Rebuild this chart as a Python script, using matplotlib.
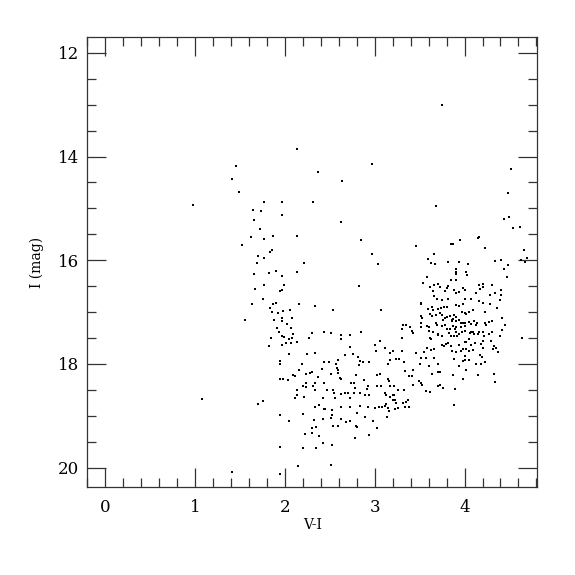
import numpy as np
import matplotlib
matplotlib.use("Agg")
import matplotlib.pyplot as plt
from matplotlib.ticker import MultipleLocator

# colour (V-I) and magnitude (I)
vi_blue = [0.98, 1.46, 1.41, 1.49, 2.14, 1.77, 1.97, 1.64, 1.73, 1.97, 1.66, 1.72, 1.62, 1.77,
           1.87, 2.14, 1.52, 1.86, 1.83, 1.70, 1.77, 1.69, 1.66, 1.82, 1.90, 1.97, 2.13,
           1.77, 1.99, 1.67, 1.94, 1.97, 1.76, 1.63, 1.87, 1.90, 2.16, 1.83, 1.86, 1.92,
           1.98, 2.06, 1.56, 1.88, 1.97, 1.97, 2.08, 2.02, 1.91, 1.93, 2.07, 2.09, 1.97,
           1.99, 1.85, 2.05, 2.08, 2.14, 2.01, 1.97, 2.07, 1.82, 2.05, 1.94, 1.95, 2.16,
           2.09, 2.11, 1.94, 1.98, 2.04, 2.14, 2.13, 2.11, 1.08, 1.76, 1.70, 1.95, 2.05,
           1.95, 2.15, 1.41, 1.95]
i_blue = [14.94, 14.18, 14.44, 14.69, 13.86, 14.87, 14.87, 15.03, 15.05, 15.12, 15.22, 15.40,
          15.56, 15.59, 15.53, 15.53, 15.70, 15.81, 15.85, 15.91, 15.96, 16.06, 16.27, 16.25,
          16.20, 16.30, 16.22,
          16.47, 16.48, 16.55, 16.59, 16.57, 16.74, 16.84, 16.84, 16.83, 16.85, 16.93, 16.99,
          17.02, 16.98, 16.97, 17.15, 17.16, 17.11, 17.18, 17.11, 17.23, 17.31, 17.38, 17.31,
          17.42, 17.47, 17.49, 17.50, 17.52, 17.51, 17.57, 17.59, 17.63, 17.60, 17.65, 17.81,
          17.94, 18.01, 18.11, 18.22, 18.24, 18.29, 18.30, 18.32, 18.51, 18.61, 18.65, 18.68,
          18.72, 18.78, 18.99, 19.11, 19.60, 19.98, 20.09, 20.12]

vi_mid = [2.97, 2.37, 2.64, 2.31, 2.62, 2.85, 2.97, 3.04, 2.21, 2.83, 2.34, 2.53, 3.07, 2.30,
          2.44, 2.51, 2.63, 2.72, 2.85, 2.27, 2.62,
          2.72, 3.00, 3.06, 3.01, 3.11, 3.17, 3.20, 2.25, 2.33, 2.67, 2.76, 2.81, 2.49, 2.43,
          2.59, 2.19, 2.57, 2.84, 2.87, 2.94, 2.82, 3.15, 3.17, 3.24, 3.27, 2.41, 2.58, 2.59,
          2.28, 2.30, 2.24, 2.59, 2.51, 2.79, 3.03, 3.06, 2.37, 2.61, 2.62, 2.88, 3.15, 3.16,
          2.23, 2.33, 2.43, 2.74, 2.77, 2.20, 2.23, 2.31, 2.78, 2.92, 3.02, 3.07, 3.17, 3.22,
          3.26, 2.91, 2.33, 2.47, 2.54, 2.55, 2.63, 2.67, 2.70, 2.77, 2.84, 2.89, 2.94, 3.11,
          3.13, 3.17, 3.20, 3.21, 2.21, 2.42, 2.56, 2.73, 3.23, 3.20, 2.33, 2.38, 2.45, 2.43,
          2.52, 2.62, 2.72, 2.84, 2.92, 3.00, 3.05, 3.08, 3.11, 3.13, 3.15, 3.16, 3.23, 3.26,
          2.20, 2.52, 2.51, 2.80, 2.32, 2.42, 2.62, 2.73, 2.89, 2.98, 2.68, 2.35, 2.30, 2.54,
          2.59, 2.79, 2.80, 3.03, 2.30, 2.22, 2.38, 2.94, 2.78, 2.42, 2.52, 2.20, 2.35, 2.51]
i_mid = [14.14, 14.29, 14.48, 14.87, 15.27, 15.61, 15.88, 16.08, 16.05, 16.50, 16.88, 16.97,
         16.97, 17.40, 17.38, 17.40, 17.45, 17.45, 17.38, 17.51, 17.52,
         17.68, 17.63, 17.56, 17.76, 17.70, 17.79, 17.76, 17.81, 17.80, 17.83, 17.81, 17.86,
         17.96, 17.97, 17.93, 18.01, 18.00, 17.94, 17.96, 17.96, 18.03, 18.00, 17.92, 17.91,
         17.90, 18.09, 18.08, 18.11, 18.17, 18.16, 18.19, 18.17, 18.20, 18.22, 18.22, 18.20,
         18.26, 18.27, 18.30, 18.32, 18.30, 18.33, 18.36, 18.36, 18.36, 18.36, 18.36, 18.43,
         18.45, 18.43, 18.46, 18.43, 18.42, 18.43, 18.42, 18.42, 18.51, 18.49, 18.51, 18.51,
         18.51, 18.57, 18.58, 18.56, 18.57, 18.57, 18.57, 18.60, 18.61, 18.57, 18.60, 18.63,
         18.61, 18.60, 18.63, 18.66, 18.65, 18.65, 18.70, 18.70, 18.83, 18.79, 18.88, 18.87,
         18.89, 18.83, 18.83, 18.82, 18.84, 18.86, 18.83, 18.83, 18.82, 18.78, 18.85, 18.90,
         18.87, 18.86, 18.96, 18.98, 19.05, 18.95, 19.08, 19.06, 19.06, 19.10, 19.03, 19.11,
         19.13, 19.22, 19.24, 19.20, 19.19, 19.20, 19.21, 19.24, 19.33, 19.35, 19.40, 19.38,
         19.43, 19.53, 19.57, 19.63, 19.63, 19.96]

vi_red = [3.46, 3.85, 3.87, 3.95, 3.66, 3.59, 3.63, 3.67, 3.82, 3.94, 3.91, 3.91, 3.91, 3.58,
          3.54, 3.85, 3.82, 3.80, 3.90, 3.66, 3.62, 3.65, 3.71, 3.73, 3.88, 3.91, 3.94, 3.78,
          3.66, 3.69, 3.75, 3.82, 3.51, 3.52, 3.59, 3.64, 3.65, 3.70, 3.74, 3.77, 3.80, 3.94,
          3.52, 3.53, 3.61, 3.64, 3.68, 3.73, 3.75, 3.76, 3.78, 3.81, 3.84, 3.88, 3.90, 3.86,
          3.86, 3.94, 3.31, 3.35, 3.39, 3.30, 3.52, 3.52, 3.58, 3.60, 3.68, 3.69, 3.75, 3.78,
          3.81, 3.84, 3.87, 3.91, 3.89, 3.41, 3.43, 3.60, 3.65, 3.71, 3.83, 3.91, 3.94, 3.30,
          3.62, 3.70, 3.75, 3.85, 3.88, 3.92,
          3.63, 3.58, 3.63, 3.66, 3.66, 3.75, 3.77, 3.79, 3.82, 3.85, 3.86, 3.94, 3.91, 3.30,
          3.33, 3.46, 3.55, 3.52, 3.57, 3.50, 3.60, 3.71, 3.64, 3.71, 3.73, 3.94, 3.34, 3.43,
          3.38, 3.42, 3.49, 3.52, 3.53, 3.43, 3.57, 3.62, 3.71, 3.73, 3.76, 3.89, 3.33, 3.37,
          3.35, 3.31, 3.38, 3.24, 3.34, 3.14, 3.88,
          4.52, 4.48, 4.49, 4.44, 4.54, 4.62, 4.16, 4.15, 4.23, 4.66, 4.69, 4.63, 4.67, 4.34,
          4.41, 4.48, 4.04, 4.44,
          4.47, 4.02, 4.03, 3.98, 4.00, 4.16, 4.21, 4.20, 4.17, 4.13, 4.31, 4.34, 4.41, 4.41,
          4.40, 4.28, 4.07, 4.00, 4.16, 4.20, 4.28, 3.90, 3.98, 4.36, 4.23, 4.09, 4.05, 4.02,
          4.00, 3.97, 3.87, 3.91, 3.96, 3.98, 4.01, 4.05, 4.07, 4.11, 4.13, 4.14, 4.23, 4.24,
          4.27, 4.31, 4.42, 4.45, 4.42, 3.96, 4.00, 4.01, 3.97, 4.06, 4.07, 4.09, 4.10, 4.15,
          4.16, 4.21, 4.22, 4.27, 4.31, 4.39, 4.64, 4.00, 4.02, 4.05, 4.07, 4.12, 4.21, 4.30,
          4.18, 4.20, 4.32, 4.35, 4.33, 4.37, 3.96, 3.98, 4.02, 4.05, 4.09, 4.17, 3.88, 3.98,
          4.01, 4.05, 4.00, 4.19, 4.23, 4.13, 4.18, 4.02, 3.87, 4.15, 4.33, 4.34, 3.98,
          3.75, 3.68]
i_red = [15.72, 15.69, 15.69, 15.62, 15.88, 15.98, 16.06, 16.08, 16.04, 16.04, 16.17, 16.22,
         16.26, 16.33, 16.44, 16.39, 16.50, 16.54, 16.39, 16.47, 16.51, 16.59, 16.46, 16.52,
         16.57, 16.63, 16.61, 16.59, 16.70, 16.74, 16.76, 16.75, 16.83, 16.84, 16.95, 16.90,
         16.97, 16.94, 16.93, 16.91, 16.91, 16.88, 17.08, 17.12, 17.04, 17.07, 17.05, 17.01,
         17.05, 17.16, 17.11, 17.09, 17.08, 17.05, 17.09, 17.15, 17.18, 17.16, 17.25, 17.26,
         17.29, 17.32, 17.21, 17.29, 17.27, 17.29, 17.22, 17.26, 17.27, 17.26, 17.32, 17.32,
         17.27, 17.28, 17.32, 17.37, 17.41, 17.37, 17.39, 17.42, 17.40, 17.39, 17.42, 17.50,
         17.50, 17.45, 17.47, 17.46, 17.47, 17.46,
         17.53, 17.69, 17.74, 17.71, 17.88, 17.63, 17.65, 17.61, 17.59, 17.65, 17.75, 17.63,
         17.77, 17.76, 17.97, 17.79, 17.77, 17.89, 17.88, 18.00, 18.04, 18.00, 18.19, 18.15,
         18.16, 18.04, 18.14, 18.12, 18.24, 18.24, 18.33, 18.36, 18.41, 18.40, 18.52, 18.54,
         18.43, 18.40, 18.47, 18.48, 18.50, 18.69, 18.73, 18.75, 18.83, 18.75, 18.83, 19.03,
         18.79,
         14.24, 14.70, 15.16, 15.21, 15.37, 15.36, 15.56, 15.58, 15.77, 15.80, 15.95, 16.00,
         16.04, 16.02, 16.00, 16.10, 16.07, 16.17,
         16.32, 16.23, 16.28, 16.53, 16.58, 16.48, 16.45, 16.52, 16.55, 16.63, 16.48, 16.63,
         16.58, 16.68, 16.77, 16.68, 16.74, 16.75, 16.79, 16.83, 16.84, 16.86, 16.85, 16.92,
         16.99, 16.96, 17.00, 17.04, 17.02, 17.00, 17.13, 17.18, 17.21, 17.21, 17.22, 17.19,
         17.23, 17.18, 17.25, 17.22, 17.21, 17.25, 17.20, 17.18, 17.11, 17.26, 17.35, 17.29,
         17.27, 17.36, 17.38, 17.40, 17.38, 17.38, 17.42, 17.43, 17.38, 17.38, 17.46, 17.42,
         17.38, 17.47, 17.51, 17.57, 17.57, 17.52, 17.63, 17.59, 17.56, 17.55, 17.62, 17.70,
         17.71, 17.69, 17.66, 17.77, 17.76, 17.72, 17.71, 17.76, 17.74, 17.82, 17.91, 17.94,
         17.92, 17.92, 17.85, 17.86, 17.97, 18.00, 18.00, 18.11, 18.22, 18.22, 18.19, 18.35,
         18.30,
         13.01, 14.95]

vi = np.array(vi_blue + vi_mid + vi_red)
imag = np.array(i_blue + i_mid + i_red)

plt.rcParams['font.family'] = 'DejaVu Serif'

fig = plt.figure(figsize=(5.75, 5.75), dpi=100)
ax = fig.add_axes([87.3 / 575, 1 - 486.7 / 575, 450 / 575, 449.4 / 575])

ax.plot(vi, imag, 's', color='black', ms=2.0, mew=0)

ax.set_xlim(-0.2, 4.81)
ax.set_ylim(20.37, 11.7)

ax.xaxis.set_major_locator(MultipleLocator(1))
ax.xaxis.set_minor_locator(MultipleLocator(0.2))
ax.yaxis.set_major_locator(MultipleLocator(2))
ax.yaxis.set_minor_locator(MultipleLocator(0.5))

ax.tick_params(which='both', direction='in', top=True, right=True,
               color='#333333', width=0.9, labelsize=12)
ax.tick_params(which='major', length=13.5)
ax.tick_params(which='minor', length=6.8)
ax.tick_params(axis='x', which='major', pad=9)
ax.tick_params(axis='y', which='major', pad=6)
for s in ax.spines.values():
    s.set_color('#333333')
    s.set_linewidth(0.9)

ax.set_xlabel('V-I', fontsize=10, labelpad=1)
ax.set_ylabel('I (mag)', fontsize=10, labelpad=10)

fig.savefig('out.png', dpi=100)
